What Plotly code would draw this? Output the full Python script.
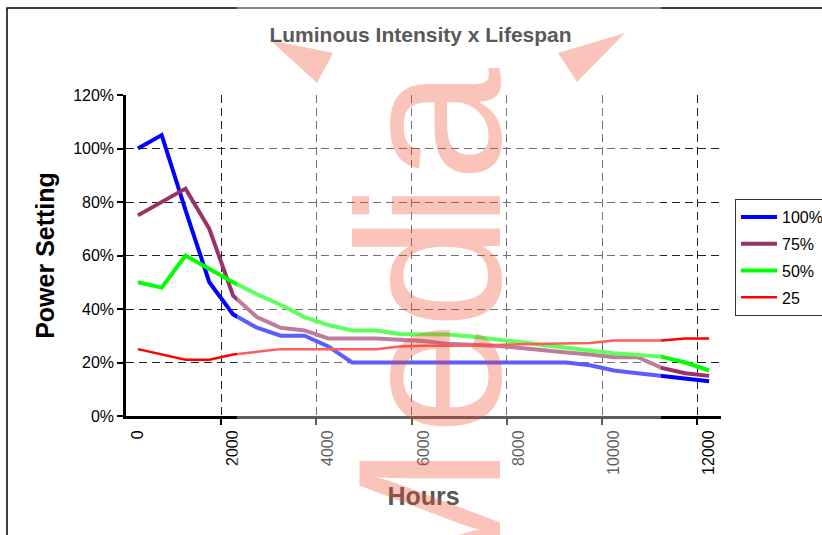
import plotly.graph_objects as go

hours = [0, 500, 1000, 1500, 2000, 2500, 3000, 3500, 4000, 4500, 5000, 5500, 6000,
         6500, 7000, 7500, 8000, 8500, 9000, 9500, 10000, 10500, 11000, 11500, 12000]
s100 = [100, 105, 77, 50, 38, 33, 30, 30, 26, 20, 20, 20, 20, 20, 20, 20, 20, 20, 20,
        19, 17, 16, 15, 14, 13]
s75 = [75, 80, 85, 70, 45, 37, 33, 32, 29, 29, 29, 28.5, 28, 27, 26.8, 26.3, 25.5, 24.5,
       23.7, 23, 22, 22, 18, 16, 15]
s50 = [50, 48, 60, 55, 50, 45.5, 41.5, 37, 34, 32, 32, 30.7, 30.6, 30.5, 29.7, 28.6, 27.7,
       26.5, 25.3, 24.5, 23.5, 22.8, 22.2, 20, 17]
s25 = [25, 23, 21, 21, 23, 24, 25, 25, 25, 25, 25, 26, 26.3, 26.3, 26.3, 26.5, 26.8, 27,
       27.2, 27.3, 28.2, 28.2, 28.2, 29, 29]
names = ["100%", "75%", "50%", "25"]
colors = ["#0000FF", "#993366", "#00FF00", "#FF0000"]
widths = [4, 4, 4, 2.5]
xticks = [0, 2000, 4000, 6000, 8000, 10000, 12000]
yticks = [0, 20, 40, 60, 80, 100, 120]

FONT = "Arial, Liberation Sans, sans-serif"
step = hours[1] - hours[0]
xmin = hours[0] - step / 2
xmax = hours[-1] + step / 2
grid_x = [hours[i] + step / 2 for i in range(3, len(hours) - 1, 4)]

fig = go.Figure()
for i, (name, ys) in enumerate(zip(names, [s100, s75, s50, s25])):
    fig.add_trace(go.Scatter(x=hours, y=ys, mode="lines", name=name,
                             legendgroup=name,
                             line=dict(color=colors[i], width=widths[i])))

W, H = 822, 535
L, R, T, B = 126, 101, 95, 119

def px(xp):
    return (xp - L) / (W - L - R)

def py(yp):
    return (H - B - yp) / (H - T - B)

fig.update_layout(
    width=W, height=H,
    margin=dict(l=L, r=R, t=T, b=B, autoexpand=False),
    paper_bgcolor="white", plot_bgcolor="white",
    font=dict(family=FONT, color="black", size=16),
    title=dict(text="<b>Luminous Intensity x Lifespan</b>", x=px(420.5), xref="paper",
               y=1 - 35 / H, yref="container", xanchor="center", yanchor="middle",
               font=dict(family=FONT, size=21, color="#595959")),
    xaxis=dict(range=[xmin, xmax], tickmode="array", tickvals=xticks,
               ticktext=[str(v) for v in xticks], tickangle=-90, ticks="",
               ticklabelstandoff=5, showgrid=False, zeroline=False,
               showline=True, linecolor="black", linewidth=3,
               tickfont=dict(size=16, color="black"),
               title=dict(text="<b>Hours</b>", standoff=14,
                          font=dict(size=25, color="#595959")),
               minor=dict(tickmode="array", tickvals=grid_x, showgrid=True,
                          gridcolor="#222222", gridwidth=1, griddash="8px,5px",
                          ticks="outside", ticklen=6, tickcolor="black", tickwidth=2)),
    yaxis=dict(range=[0, 120], tickmode="array", tickvals=yticks,
               ticktext=[f"{v}%" for v in yticks], ticks="outside", ticklen=6,
               tickwidth=2, tickcolor="black", showgrid=True, gridcolor="#222222",
               gridwidth=1, griddash="8px,5px", zeroline=False, showline=True,
               linecolor="black", linewidth=2.5, tickfont=dict(size=16, color="black"),
               title=dict(text="<b>Power Setting</b>", standoff=12,
                          font=dict(size=25, color="black"))),
    legend=dict(x=px(735), y=py(199), xanchor="left", yanchor="top",
                bordercolor="#333333", borderwidth=1, bgcolor="white",
                font=dict(size=16, color="black"), itemwidth=36,
                tracegroupgap=3),
    showlegend=True,
)

salmon = "rgba(240,70,40,0.32)"
shapes = [
    # outer chart frame
    dict(type="rect", xref="paper", yref="paper", x0=px(7), y0=py(8), x1=px(900), y1=py(600),
         line=dict(color="black", width=1.5), fillcolor="rgba(0,0,0,0)", layer="above"),
    # translucent watermark band
    dict(type="rect", xref="paper", yref="paper", x0=px(237), x1=px(661), y0=py(600), y1=py(-10),
         line=dict(width=0), fillcolor="rgba(255,255,255,0.36)", layer="above"),
    dict(type="path", xref="paper", yref="paper",
         path=f"M {px(270)} {py(40)} L {px(333)} {py(53)} L {px(317)} {py(83)} Z",
         fillcolor=salmon, line=dict(width=0), layer="above"),
    dict(type="path", xref="paper", yref="paper",
         path=f"M {px(625)} {py(33)} L {px(558)} {py(53)} L {px(577)} {py(82)} Z",
         fillcolor=salmon, line=dict(width=0), layer="above"),
]
fig.update_layout(shapes=shapes)

# watermark letters (rotated, reading bottom to top)
for letter, ypix in [("M", 530), ("e", 378), ("d", 272), ("i", 205), ("a", 125)]:
    fig.add_annotation(text=letter, xref="paper", yref="paper", x=px(428), y=py(ypix),
                       xanchor="center", yanchor="middle", showarrow=False, textangle=-90,
                       font=dict(family=FONT, size=205, color=salmon))

fig.write_html("out.html",
               config={"displayModeBar": False},
               post_script="document.body.style.margin='0';"
                           "document.body.style.overflow='hidden';")
